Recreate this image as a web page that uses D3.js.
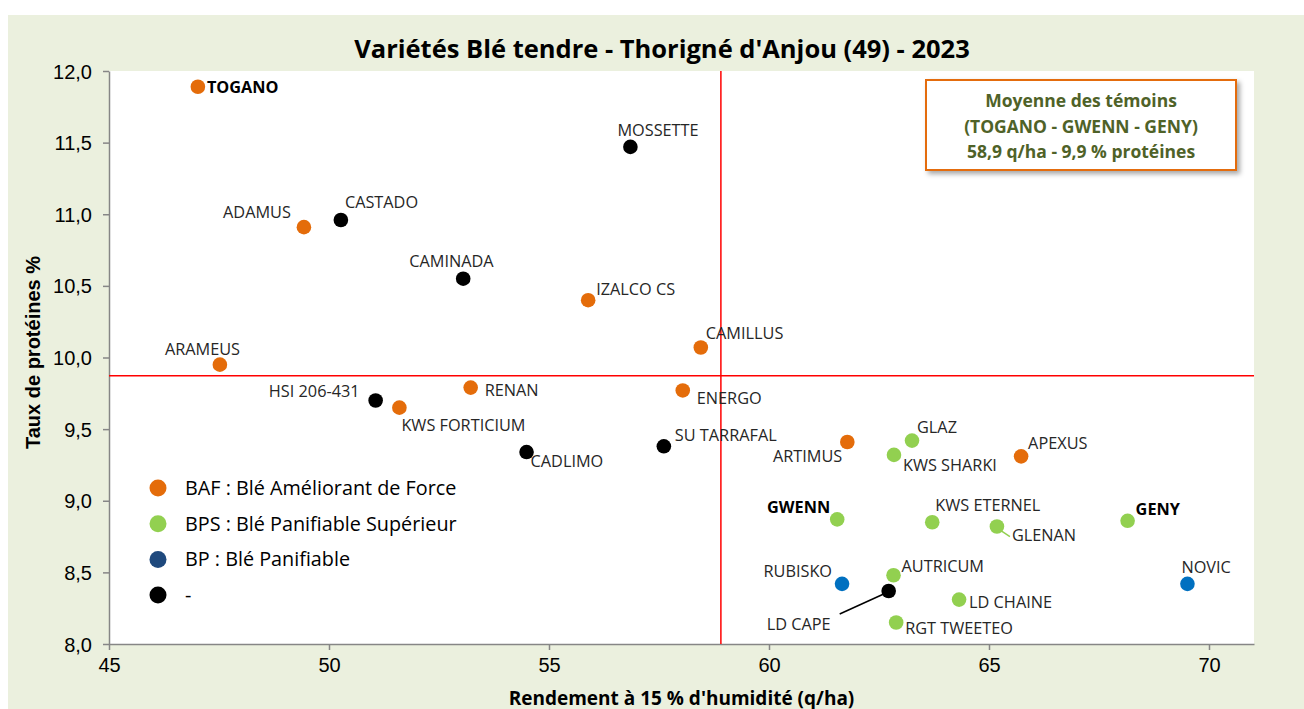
<!DOCTYPE html>
<html>
<head>
<meta charset="utf-8">
<script src="https://cdn.jsdelivr.net/npm/d3@7"></script>
<style>
    body { margin: 0; background: #fff; }
    #chart { width: 1304px; height: 709px; }
    .lbl { font-family: "Open Sans", sans-serif; font-size: 16.3px; fill: #262626; }
    .lbl.temoin { font-weight: bold; fill: #000; }
    .tick text { font-family: "Liberation Sans", Arial, sans-serif; font-size: 20px; fill: #000; }
</style>
</head>
<body>
<div id="chart"></div>
<script>

// varietes, rendement (q/ha), proteines (%), groupe
const varietes = ["TOGANO", "MOSSETTE", "ADAMUS", "CASTADO", "CAMINADA", "IZALCO CS", "CAMILLUS", "ARAMEUS",
    "HSI 206-431", "KWS FORTICIUM", "RENAN", "ENERGO", "CADLIMO", "SU TARRAFAL", "ARTIMUS", "GLAZ",
    "KWS SHARKI", "APEXUS", "GWENN", "KWS ETERNEL", "GLENAN", "GENY", "NOVIC", "RUBISKO",
    "AUTRICUM", "LD CAPE", "LD CHAINE", "RGT TWEETEO"];
const rendement = [47.02, 56.85, 49.43, 50.27, 53.05, 55.89, 58.45, 47.52,
    51.06, 51.60, 53.22, 58.04, 54.49, 57.61, 61.78, 63.25,
    62.84, 65.73, 61.55, 63.71, 65.18, 68.15, 69.51, 61.66,
    62.83, 62.72, 64.32, 62.89];
const proteines = [11.89, 11.47, 10.91, 10.96, 10.55, 10.40, 10.07, 9.95,
    9.70, 9.65, 9.79, 9.77, 9.34, 9.38, 9.41, 9.42,
    9.32, 9.31, 8.87, 8.85, 8.82, 8.86, 8.42, 8.42,
    8.48, 8.37, 8.31, 8.15];
const groupe = ["BAF", "-", "BAF", "-", "-", "BAF", "BAF", "BAF",
    "-", "BAF", "BAF", "BAF", "-", "-", "BAF", "BPS",
    "BPS", "BAF", "BPS", "BPS", "BPS", "BPS", "BP", "BP",
    "BPS", "-", "BPS", "BPS"];
const temoins = ["TOGANO", "GWENN", "GENY"];

const groupes = ["BAF", "BPS", "BP", "-"];
const groupeLabels = ["BAF : Blé Améliorant de Force", "BPS : Blé Panifiable Supérieur", "BP : Blé Panifiable", "-"];

const xTicks = [45, 50, 55, 60, 65, 70];
const yTicks = [8, 8.5, 9, 9.5, 10, 10.5, 11, 11.5, 12];

// label placement (dx, dy, anchor) relative to the point
const labelPos = {
    "TOGANO": [9, 6, "start"], "MOSSETTE": [-13, -11, "start"], "ADAMUS": [-13, -9, "end"],
    "CASTADO": [4, -12, "start"], "CAMINADA": [-54, -12, "start"], "IZALCO CS": [8, -5, "start"],
    "CAMILLUS": [5, -8, "start"], "ARAMEUS": [-55, -10, "start"], "HSI 206-431": [-16, -3, "end"],
    "KWS FORTICIUM": [2, 23, "start"], "RENAN": [14, 8, "start"], "ENERGO": [14, 14, "start"],
    "CADLIMO": [4, 15, "start"], "SU TARRAFAL": [11, -5, "start"], "ARTIMUS": [-5, 20, "end"],
    "GLAZ": [5, -8, "start"], "KWS SHARKI": [9, 16, "start"], "APEXUS": [7, -7, "start"],
    "GWENN": [-7, -6, "end"], "KWS ETERNEL": [3, -11, "start"], "GLENAN": [15, 14, "start"],
    "GENY": [8, -6, "start"], "NOVIC": [-6, -11, "start"], "RUBISKO": [-10, -7, "end"],
    "AUTRICUM": [8, -3, "start"], "LD CAPE": [-122, 39, "start"], "LD CHAINE": [10, 8, "start"],
    "RGT TWEETEO": [9, 11, "start"]
};
// leader lines [x1, y1, x2, y2] offsets from the point
const leaders = {
    "LD CAPE": [-49, 23, -5, 3],
    "GLENAN": [1, 2, 13, 10]
};

const data = varietes.map((v, i) => ({
    nom: v, x: rendement[i], y: proteines[i], g: groupe[i]
}));

const moyX = d3.mean(data.filter(d => temoins.includes(d.nom)), d => d.x);
const moyY = d3.mean(data.filter(d => temoins.includes(d.nom)), d => d.y);

const W = 1304, H = 709;
const margin = {top: 71, right: 50, bottom: 65, left: 109};

const color = d3.scaleOrdinal()
    .domain(groupes)
    .range(["#E46C0A", "#92D050", "#0070C0", "#000000"]);
const legendColor = d3.scaleOrdinal()
    .domain(groupes)
    .range(["#E46C0A", "#92D050", "#1F497D", "#000000"]);

const svg = d3.select("#chart").append("svg")
    .attr("width", W)
    .attr("height", H);

const defs = svg.append("defs");
const shadow = defs.append("filter").attr("id", "shadow")
    .attr("x", "-10%").attr("y", "-10%").attr("width", "130%").attr("height", "140%");
shadow.append("feDropShadow")
    .attr("dx", 3).attr("dy", 3).attr("stdDeviation", 2.5)
    .attr("flood-color", "#000").attr("flood-opacity", 0.35);

// outer background
svg.append("rect")
    .attr("x", 8).attr("y", 15)
    .attr("width", W - 8).attr("height", H - 15)
    .attr("fill", "#ebf0de");

const x = d3.scaleLinear()
    .domain([45, 45 + (W - margin.left - margin.right) / 44])
    .range([margin.left, W - margin.right]);
const y = d3.scaleLinear()
    .domain([8, 12])
    .range([H - margin.bottom - 0, margin.top]);

// plot area
svg.append("rect")
    .attr("x", margin.left).attr("y", margin.top)
    .attr("width", W - margin.left - margin.right)
    .attr("height", y(8) - margin.top)
    .attr("fill", "#fff");

// title
svg.append("text")
    .attr("x", 662).attr("y", 58)
    .attr("text-anchor", "middle")
    .style("font-family", "Open Sans, sans-serif")
    .style("font-weight", "bold")
    .style("font-size", "25.5px")
    .style("fill", "#000")
    .text("Variétés Blé tendre - Thorigné d'Anjou (49) - 2023");

// axes
const fmt = v => d3.format(".1f")(v).replace(".", ",");

const xAxis = svg.append("g")
    .attr("transform", `translate(0, ${y(8)})`)
    .call(d3.axisBottom(x).tickValues(xTicks).tickSize(6).tickSizeOuter(0).tickPadding(8));
const yAxis = svg.append("g")
    .attr("transform", `translate(${margin.left}, 0)`)
    .call(d3.axisLeft(y).tickValues(yTicks).tickFormat(fmt).tickSize(6).tickSizeOuter(0).tickPadding(11));

[xAxis, yAxis].forEach(a => {
    a.select(".domain").attr("stroke", "#868686").attr("stroke-width", 1.5);
    a.selectAll(".tick line").attr("stroke", "#868686").attr("stroke-width", 1.5);
});
yAxis.selectAll(".tick text").attr("dy", "0.35em");

// axis titles
svg.append("text")
    .attr("transform", `translate(40, ${(margin.top + y(8)) / 2 - 5}) rotate(-90)`)
    .attr("text-anchor", "middle")
    .style("font-family", "Liberation Sans, Arial, sans-serif")
    .style("font-weight", "bold")
    .style("font-size", "20px")
    .text("Taux de protéines %");

svg.append("text")
    .attr("x", (margin.left + W - margin.right) / 2)
    .attr("y", 705)
    .attr("text-anchor", "middle")
    .style("font-family", "Open Sans, sans-serif")
    .style("font-weight", "bold")
    .style("font-size", "19px")
    .text("Rendement à 15 % d'humidité (q/ha)");

// mean lines
svg.append("line")
    .attr("x1", x(moyX)).attr("x2", x(moyX))
    .attr("y1", margin.top).attr("y2", y(8))
    .attr("stroke", "#ff0000").attr("stroke-width", 1.5);
svg.append("line")
    .attr("x1", margin.left).attr("x2", W - margin.right)
    .attr("y1", y(moyY)).attr("y2", y(moyY))
    .attr("stroke", "#ff0000").attr("stroke-width", 1.5);

// leader lines
data.filter(d => leaders[d.nom]).forEach(d => {
    let l = leaders[d.nom];
    svg.append("line")
        .attr("x1", x(d.x) + l[0]).attr("y1", y(d.y) + l[1])
        .attr("x2", x(d.x) + l[2]).attr("y2", y(d.y) + l[3])
        .attr("stroke", d.nom === "GLENAN" ? "#92D050" : "#000")
        .attr("stroke-width", 1.5);
});

// points
svg.append("g").selectAll("circle")
    .data(data)
    .join("circle")
    .attr("cx", d => x(d.x))
    .attr("cy", d => y(d.y))
    .attr("r", 7.3)
    .attr("fill", d => color(d.g));

// labels
svg.append("g").selectAll("text")
    .data(data)
    .join("text")
    .attr("class", d => temoins.includes(d.nom) ? "lbl temoin" : "lbl")
    .attr("x", d => x(d.x) + labelPos[d.nom][0])
    .attr("y", d => y(d.y) + labelPos[d.nom][1])
    .attr("text-anchor", d => labelPos[d.nom][2])
    .text(d => d.nom);

// legend
const legend = svg.append("g").attr("transform", "translate(158, 488)");
groupes.forEach((g, i) => {
    legend.append("circle")
        .attr("cx", 0).attr("cy", i * 35.7)
        .attr("r", 8.5)
        .attr("fill", legendColor(g));
    legend.append("text")
        .attr("x", 27).attr("y", i * 35.7)
        .attr("dy", "0.35em")
        .style("font-family", "Open Sans, sans-serif")
        .style("font-size", "19.8px")
        .style("fill", "#000")
        .text(groupeLabels[i]);
});

// mean box
const box = svg.append("g");
box.append("rect")
    .attr("x", 926).attr("y", 80)
    .attr("width", 310).attr("height", 90)
    .attr("fill", "#fff")
    .attr("stroke", "#E46C0A")
    .attr("stroke-width", 2)
    .attr("filter", "url(#shadow)");
const boxLines = ["Moyenne des témoins", "(" + temoins.join(" - ") + ")",
    d3.format(".1f")(moyX).replace(".", ",") + " q/ha - " + d3.format(".1f")(moyY).replace(".", ",") + " % protéines"];
boxLines.forEach((t, i) => {
    box.append("text")
        .attr("x", 1081).attr("y", 107 + i * 25.5)
        .attr("text-anchor", "middle")
        .style("font-family", "Open Sans, sans-serif")
        .style("font-weight", "bold")
        .style("font-size", "17.5px")
        .style("fill", "#4F6228")
        .text(t);
});

</script>
</body>
</html>
